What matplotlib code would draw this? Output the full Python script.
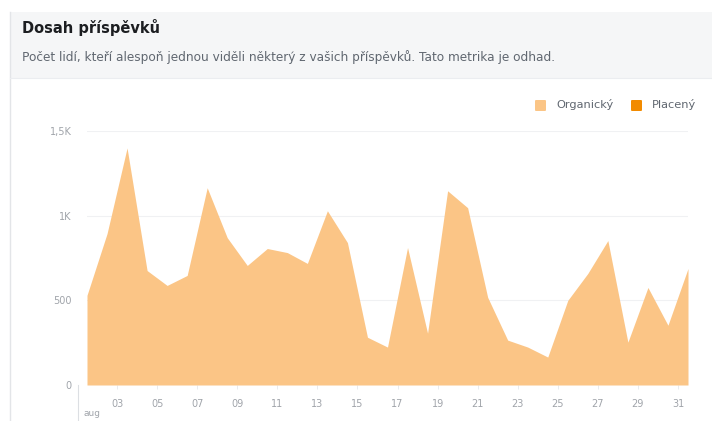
import matplotlib.pyplot as plt
from matplotlib.patches import Rectangle, FancyBboxPatch
from matplotlib.lines import Line2D

# reach per day (August)
days = list(range(31))
organic = [530, 894, 1400, 676, 588, 647, 1165, 870, 706, 806, 782,
           718, 1029, 841, 282, 224, 812, 306, 1147, 1047, 518, 265,
           224, 165, 500, 659, 853, 253, 576, 353, 688]
paid = [0] * 31

tick_pos = [i + 0.5 for i in range(1, 31, 2)]
tick_labels = ['03', '05', '07', '09', '11', '13', '15', '17', '19', '21',
               '23', '25', '27', '29', '31']
y_ticks = [0, 500, 1000, 1500]
y_labels = ['0', '500', '1K', '1,5K']

ORG = '#fbc586'
PAID = '#f28b00'
W, H = 712, 421

fig = plt.figure(figsize=(7.12, 4.21), dpi=100)
fig.patch.set_facecolor('white')

def fx(px):
    return px / W

def fy(py):
    return 1 - py / H

# header panel
fig.patches.append(Rectangle((fx(10), fy(78)), fx(702), 66 / H,
                             transform=fig.transFigure, facecolor='#f5f6f7',
                             edgecolor='none', zorder=0))
fig.add_artist(Line2D([fx(10), fx(10)], [fy(12), 0], transform=fig.transFigure,
                      color='#e3e5e8', lw=1))
fig.add_artist(Line2D([fx(10), 1], [fy(78), fy(78)], transform=fig.transFigure,
                      color='#ebedf0', lw=0.8))
fig.text(fx(22), fy(27), 'Dosah příspěvků', fontsize=10.5, fontweight='bold',
         color='#1c1e21', va='center')
fig.text(fx(22), fy(57), 'Počet lidí, kteří alespoň jednou viděli některý z vašich '
         'příspěvků. Tato metrika je odhad.', fontsize=8.7, color='#606770',
         va='center')

ax = fig.add_axes([fx(87), fy(385), fx(688 - 87), (385 - 131) / H])
ax.fill_between(days, 0, organic, color=ORG, lw=0, clip_on=False, zorder=2)
ax.fill_between(days, organic, [o + p for o, p in zip(organic, paid)],
                color=PAID, lw=0, zorder=2)
ax.set_xlim(0, 30)
ax.set_ylim(0, 1500)
ax.set_yticks(y_ticks)
ax.set_yticklabels(y_labels)
ax.set_xticks(tick_pos)
ax.set_xticklabels(tick_labels)
ax.grid(axis='y', color='#f0f1f3', lw=0.8)
ax.set_axisbelow(True)
for s in ax.spines.values():
    s.set_visible(False)
ax.tick_params(axis='y', length=0, pad=11, labelsize=7, labelcolor='#a0a4aa')
ax.tick_params(axis='x', length=3, width=0.6, color='#e6e8eb', pad=7,
               labelsize=7, labelcolor='#a0a4aa')

# month marker
fig.add_artist(Line2D([fx(78), fx(78)], [fy(385), 0], transform=fig.transFigure,
                      color='#dcdfe3', lw=0.8))
fig.text(fx(83), fy(414), 'aug', fontsize=6.5, color='#a0a4aa', va='center')

# legend
for x0, col, lab in [(535, ORG, 'Organický'), (631, PAID, 'Placený')]:
    fig.patches.append(FancyBboxPatch((fx(x0), fy(111)), fx(11), 11 / H,
                                      boxstyle='round,pad=0,rounding_size=0.002',
                                      transform=fig.transFigure, facecolor=col,
                                      edgecolor='none'))
    fig.text(fx(x0 + 21), fy(105), lab, fontsize=8.2, color='#606770', va='center')

fig.savefig('out.png', dpi=100)
